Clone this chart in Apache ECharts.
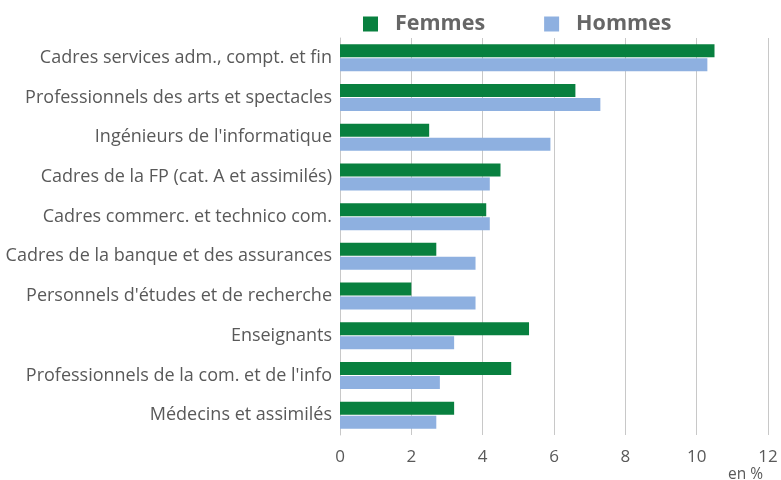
<!DOCTYPE html>
<html><head><meta charset="utf-8">
<script src="https://cdn.jsdelivr.net/npm/echarts@6/dist/echarts.min.js"></script>
<style>html,body{margin:0;padding:0;background:#fff}#c{width:781px;height:480px}</style>
</head><body><div id="c"></div>
<script>
const categories = ["Cadres services adm., compt. et fin","Professionnels des arts et spectacles","Ingénieurs de l'informatique","Cadres de la FP (cat. A et assimilés)","Cadres commerc. et technico com.","Cadres de la banque et des assurances","Personnels d'études et de recherche","Enseignants","Professionnels de la com. et de l'info","Médecins et assimilés"];
const femmes = [10.5,6.6,2.5,4.5,4.1,2.7,2.0,5.3,4.8,3.2];
const hommes = [10.3,7.3,5.9,4.2,4.2,3.8,3.8,3.2,2.8,2.7];
const xTicks = [0,2,4,6,8,10,12];
const chart = echarts.init(document.getElementById('c'));
const font = "'Open Sans', sans-serif";
chart.setOption({
  animation:false,
  textStyle:{fontFamily:font},
  legend:{top:8,left:358,itemWidth:15,itemHeight:15,itemGap:59,icon:'rect',
    textStyle:{fontSize:21.5,fontWeight:'bold',color:'#666',fontFamily:font,padding:[0,0,0,12]},
    data:['Femmes','Hommes']},
  grid:{left:340,right:13,top:38,bottom:45,containLabel:false,outerBoundsMode:'none'},
  xAxis:{type:'value',min:0,max:12,interval:2,
    name:'en %',nameLocation:'end',nameGap:0,
    nameTextStyle:{fontSize:15.5,color:'#595959',align:'right',verticalAlign:'top',padding:[32,5,0,0]},
    axisLine:{show:false},axisTick:{show:false},
    axisLabel:{fontSize:17,color:'#595959',margin:14,formatter:v=>xTicks.includes(v)?String(v):''},
    splitLine:{lineStyle:{color:'#c8c8c8',width:1}}},
  yAxis:{type:'category',inverse:true,data:categories,
    axisLine:{show:true,lineStyle:{color:'#c8c8c8'}},axisTick:{show:false},
    axisLabel:{fontSize:18,color:'#595959',margin:8}},
  series:[
    {name:'Femmes',type:'bar',data:femmes,itemStyle:{color:'#08803f'},barWidth:13,barGap:'8%'},
    {name:'Hommes',type:'bar',data:hommes,itemStyle:{color:'#8eb0e0'},barWidth:13,barGap:'8%'}
  ]
});
</script></body></html>
